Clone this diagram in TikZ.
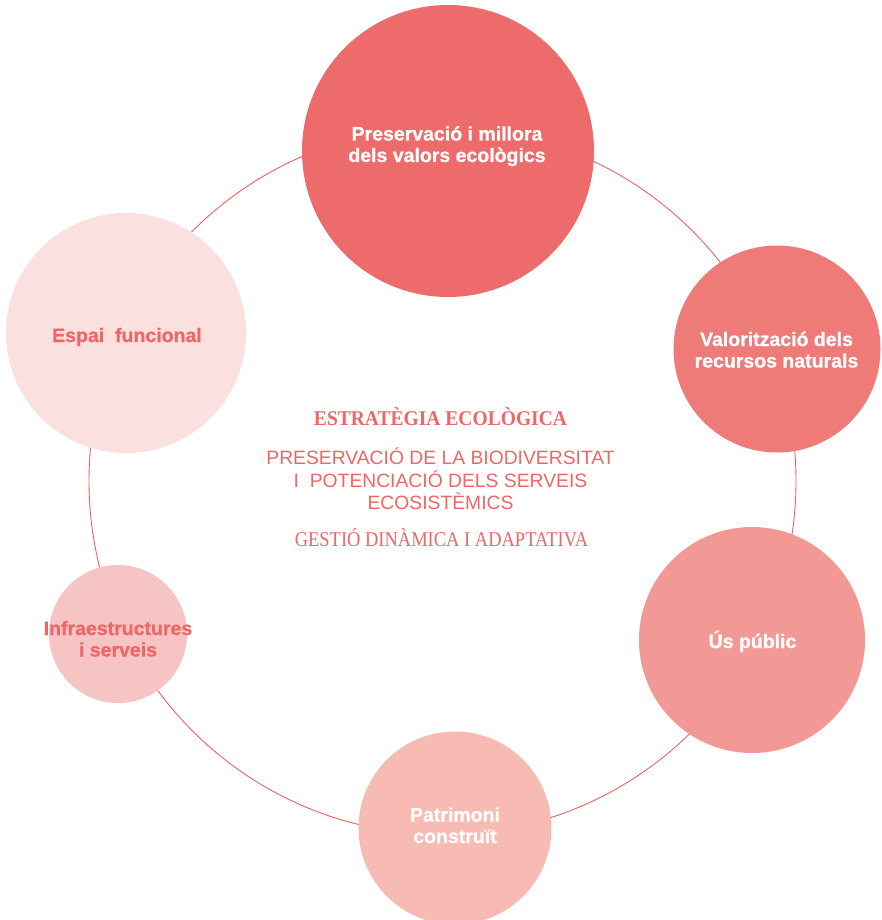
\documentclass[tikz,border=0pt]{standalone}
\usepackage{fontspec}
\setmainfont{Liberation Sans}
\newfontfamily\serifc[FakeStretch=0.88, BoldFeatures={FakeStretch=0.93}]{Liberation Serif}
\newfontfamily\heavy[BoldFeatures={FakeBold=0.8}]{Liberation Sans}
\definecolor{topc}{HTML}{ED6B6B}
\definecolor{ruc}{HTML}{EF7B78}
\definecolor{rlc}{HTML}{F29895}
\definecolor{botc}{HTML}{F7BBB3}
\definecolor{llc}{HTML}{F7C4C4}
\definecolor{luc}{HTML}{FBE0E0}
\definecolor{redtext}{HTML}{EE6767}
\definecolor{ringc}{HTML}{E96464}
\tikzset{
  bubble/.style={circle, inner sep=0pt},
  lbl/.style={anchor=base, align=center, inner sep=0pt,
    font=\heavy\bfseries\fontsize{19.5}{21.5}\selectfont},
  ringline/.style={circle, draw=ringc, line width=0.9pt, inner sep=0pt},
  titletext/.style={anchor=base, text=redtext, font=\serifc\bfseries\fontsize{21}{24}\selectfont},
  subtext/.style={anchor=base, text=redtext, font=\fontsize{19.3}{22}\selectfont},
  gesttext/.style={anchor=base, text=redtext, font=\serifc\fontsize{21}{24}\selectfont},
}
\begin{document}
\begin{tikzpicture}[x=1pt,y=-1pt]
\clip (0,0) rectangle (882,920);
\fill[white] (0,0) rectangle (882,920);
\node[ringline, minimum size=707pt] (ring) at (442.5,481) {};
\node[bubble, fill=topc, minimum size=292pt] (top) at (448,151) {};
\node[bubble, fill=ruc, minimum size=207pt] (ru) at (777,349) {};
\node[bubble, fill=rlc, minimum size=226pt] (rl) at (752,640) {};
\node[bubble, fill=botc, minimum size=193pt] (bot) at (455,828) {};
\node[bubble, fill=llc, minimum size=138pt] (ll) at (118,634) {};
\node[bubble, fill=luc, minimum size=240pt] (lu) at (126,333) {};
\node[lbl, text=white] (toplbl) at (447,162) {Preservació i millora\\dels valors ecològics};
\node[lbl, text=white] (rulbl) at (776.5,367.5) {Valorització dels\\recursos naturals};
\node[lbl, text=white] (rllbl) at (752.5,648) {Ús públic};
\node[lbl, text=white] (botlbl) at (455,843) {Patrimoni\\construït};
\node[lbl, text=redtext] (lllbl) at (118,656.5) {Infraestructures\\i serveis};
\node[lbl, text=redtext] (lulbl) at (127,342) {Espai\ \ funcional};
\node[titletext] (t1) at (440.5,425) {ESTRATÈGIA ECOLÒGICA};
\node[subtext] (s1) at (440.5,464) {PRESERVACIÓ DE LA BIODIVERSITAT};
\node[subtext] (s2) at (440.5,487) {I\ \ POTENCIACIÓ DELS SERVEIS};
\node[subtext] (s3) at (440.5,509) {ECOSISTÈMICS};
\node[gesttext] (g1) at (441.5,546) {GESTIÓ DINÀMICA I ADAPTATIVA};
\end{tikzpicture}
\end{document}
